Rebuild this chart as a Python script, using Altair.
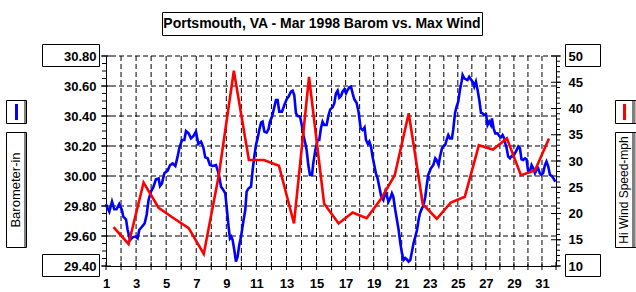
import altair as alt
import pandas as pd

# ---------------- data ----------------
baro_day = [
    1.00, 1.04, 1.22, 1.40, 1.55, 1.70, 1.88, 2.06, 2.15, 2.33, 2.44, 2.60, 2.77, 2.95,
    3.10, 3.21, 3.39, 3.57, 3.70, 3.83, 3.99, 4.14, 4.32, 4.50, 4.59, 4.72, 4.88, 5.10,
    5.26, 5.43, 5.61, 5.76, 5.87, 6.05, 6.21, 6.32, 6.49, 6.65, 6.82, 6.98, 7.14, 7.32,
    7.47, 7.60, 7.76, 7.91, 8.09, 8.31, 8.42, 8.53, 8.65, 8.80, 8.93, 9.02, 9.15, 9.24,
    9.33, 9.42, 9.53, 9.64, 9.75, 9.86, 9.98, 10.13, 10.26, 10.35, 10.48, 10.64, 10.75,
    10.86, 10.97, 11.08, 11.19, 11.31, 11.41, 11.53, 11.68, 11.81, 11.90, 12.04, 12.12,
    12.30, 12.41, 12.52, 12.70, 12.86, 13.01, 13.14, 13.30, 13.41, 13.52, 13.63, 13.74,
    13.90, 14.03, 14.14, 14.25, 14.34, 14.45, 14.56, 14.70, 14.78, 14.92, 15.07, 15.18,
    15.29, 15.40, 15.51, 15.67, 15.80, 15.91, 16.07, 16.19, 16.31, 16.43, 16.55, 16.67,
    16.78, 16.91, 17.03, 17.14, 17.26, 17.38, 17.50, 17.62, 17.78, 17.92, 18.07, 18.21,
    18.35, 18.45, 18.59, 18.69, 18.81, 18.92, 19.04, 19.16, 19.28, 19.40, 19.54, 19.69,
    19.83, 19.95, 20.06, 20.18, 20.30, 20.40, 20.54, 20.66, 20.78, 20.90, 21.02, 21.13,
    21.25, 21.37, 21.49, 21.61, 21.73, 21.84, 21.97, 22.09, 22.20, 22.30, 22.44, 22.56,
    22.68, 22.77, 22.89, 23.08, 23.25, 23.39, 23.48, 23.63, 23.73, 23.87, 23.96, 24.10,
    24.20, 24.32, 24.44, 24.58, 24.67, 24.80, 24.91, 25.03, 25.15, 25.27, 25.34, 25.46,
    25.58, 25.69, 25.81, 25.94, 26.05, 26.17, 26.29, 26.41, 26.53, 26.65, 26.76, 26.88,
    27.01, 27.12, 27.24, 27.36, 27.43, 27.55, 27.67, 27.83, 27.95, 28.07, 28.19, 28.31,
    28.38, 28.47, 28.59, 28.72, 28.83, 28.95, 29.07, 29.19, 29.31, 29.43, 29.54, 29.66,
    29.79, 29.90, 30.02, 30.14, 30.26, 30.38, 30.50, 30.61, 30.73, 30.85, 30.97, 31.09,
    31.21, 31.32, 31.45, 31.57, 31.71, 31.82, 31.95,
]
baro_inhg = [
    29.813, 29.800, 29.762, 29.829, 29.778, 29.778, 29.813, 29.773, 29.729, 29.711, 29.640,
    29.573, 29.591, 29.596, 29.584, 29.640, 29.662, 29.684, 29.740, 29.840, 29.896, 29.924,
    29.978, 29.984, 29.933, 29.951, 30.018, 30.036, 30.073, 30.084, 30.067, 30.129, 30.184,
    30.240, 30.240, 30.300, 30.284, 30.251, 30.267, 30.296, 30.213, 30.229, 30.191, 30.124,
    30.118, 30.073, 30.067, 30.073, 30.040, 29.996, 29.929, 29.907, 29.884, 29.796, 29.662,
    29.584, 29.596, 29.573, 29.507, 29.429, 29.462, 29.540, 29.596, 29.696, 29.773, 29.896,
    29.918, 29.929, 30.040, 30.129, 30.207, 30.251, 30.307, 30.356, 30.362, 30.296, 30.289,
    30.313, 30.362, 30.396, 30.429, 30.507, 30.507, 30.429, 30.429, 30.473, 30.511, 30.529,
    30.562, 30.569, 30.538, 30.418, 30.400, 30.396, 30.333, 30.267, 30.218, 30.173, 30.073,
    30.007, 30.007, 30.084, 30.173, 30.240, 30.240, 30.318, 30.362, 30.340, 30.340, 30.407,
    30.444, 30.458, 30.484, 30.551, 30.569, 30.522, 30.533, 30.562, 30.578, 30.551, 30.573,
    30.591, 30.596, 30.551, 30.511, 30.489, 30.429, 30.318, 30.307, 30.324, 30.240, 30.213,
    30.229, 30.196, 30.129, 30.073, 30.018, 29.984, 29.929, 29.862, 29.840, 29.896, 29.862,
    29.829, 29.851, 29.884, 29.862, 29.773, 29.707, 29.640, 29.551, 29.484, 29.440, 29.453,
    29.444, 29.429, 29.440, 29.496, 29.551, 29.596, 29.640, 29.707, 29.751, 29.784, 29.807,
    29.862, 29.929, 30.007, 30.051, 30.073, 30.118, 30.107, 30.073, 30.129, 30.184, 30.196,
    30.207, 30.240, 30.273, 30.251, 30.251, 30.307, 30.418, 30.462, 30.496, 30.573, 30.629,
    30.673, 30.651, 30.644, 30.640, 30.662, 30.644, 30.629, 30.596, 30.629, 30.573, 30.507,
    30.422, 30.418, 30.407, 30.411, 30.340, 30.362, 30.340, 30.384, 30.318, 30.284, 30.284,
    30.267, 30.258, 30.273, 30.251, 30.218, 30.191, 30.129, 30.118, 30.133, 30.129, 30.151,
    30.173, 30.196, 30.184, 30.111, 30.107, 30.118, 30.111, 30.029, 30.029, 30.073, 30.051,
    30.018, 30.040, 30.051, 30.018, 30.007, 30.022, 30.073, 30.096, 30.062, 30.007, 30.000,
    29.984, 29.962,
]

wind_day = list(range(1, 32))
wind_mph = [
    17.4, 14.2, 25.9, 21.1, 19.1, 17.2, 12.3, 27.3, 47.2, 30.2, 30.2, 29.1, 18.1, 46.0,
    21.9, 18.1, 20.2, 19.1, 22.7, 27.3, 39.1, 21.8, 19.0, 22.1, 23.2, 33.0, 32.2, 34.3,
    27.3, 28.2, 34.3,
]

baro_major = [29.4, 29.6, 29.8, 30.0, 30.2, 30.4, 30.6, 30.8]
baro_minor = [29.4, 29.45, 29.5, 29.55, 29.6, 29.65, 29.7, 29.75, 29.8, 29.85, 29.9, 29.95,
              30.0, 30.05, 30.1, 30.15, 30.2, 30.25, 30.3, 30.35, 30.4, 30.45, 30.5, 30.55,
              30.6, 30.65, 30.7, 30.75, 30.8]
wind_major = [10, 15, 20, 25, 30, 35, 40, 45, 50]
wind_minor = list(range(10, 51))
day_ticks = list(range(1, 33))
day_labels = list(range(1, 32, 2))
grid_days = list(range(2, 32))
grid_baro = [29.6, 29.8, 30.0, 30.2, 30.4, 30.6, 30.8]

TITLE = "Portsmouth, VA - Mar 1998 Barom vs. Max Wind"
LEFT_LEGEND = "Barometer-in"
RIGHT_LEGEND = "Hi Wind Speed-mph"
FONT = "Liberation Sans"
BLUE = "#0000ff"
RED = "#ff0000"

# ---------------- scales ----------------
xs = alt.Scale(domain=[1, 16, 32], range=[0, 225.6, 450], nice=False, zero=False)
yb = alt.Scale(domain=[29.4, 30.8], nice=False, zero=False)
yw = alt.Scale(domain=[10, 50], nice=False, zero=False)

baro_df = pd.DataFrame({"day": baro_day, "baro": baro_inhg})
wind_df = pd.DataFrame({"day": wind_day, "wind": wind_mph})
one = pd.DataFrame({"k": [0]})

label_style = dict(labelFont=FONT, labelFontSize=13, labelFontWeight="bold",
                   labelColor="black", labelFlush=False, labelOverlap=False,
                   ticks=False, grid=False, domainColor="black", domainWidth=1,
                   title=None)

x_axis = alt.Axis(orient="bottom", values=day_labels, format="d", labelPadding=11,
                  **label_style)


def xenc(field):
    return alt.X(field, scale=xs, axis=x_axis)


vgrid = alt.Chart(pd.DataFrame({"d": grid_days})).mark_rule(
    color="black", strokeWidth=1, strokeDash=[5, 3]
).encode(x=xenc("d:Q"))

hgrid = alt.Chart(pd.DataFrame({"v": grid_baro})).mark_rule(
    color="black", strokeWidth=1, strokeDash=[5, 3]
).encode(y=alt.Y("v:Q", scale=yb, axis=None))

baro_line = alt.Chart(baro_df).mark_line(color=BLUE, strokeWidth=2.6).encode(
    x=xenc("day:Q"),
    y=alt.Y("baro:Q", scale=yb,
            axis=alt.Axis(orient="left", values=baro_major, format=".2f",
                          labelPadding=10, **label_style)),
)

wind_line = alt.Chart(wind_df).transform_calculate(
    noon="datum.day + 0.5"
).mark_line(color=RED, strokeWidth=2.6).encode(
    x=xenc("noon:Q"),
    y=alt.Y("wind:Q", scale=yw,
            axis=alt.Axis(orient="right", values=wind_major, format="d",
                          labelPadding=12, **label_style)),
)


def yticks(values, scale, xpos, size):
    return alt.Chart(pd.DataFrame({"v": values})).mark_tick(
        orient="horizontal", size=size, thickness=1, color="black", opacity=1
    ).encode(y=alt.Y("v:Q", scale=scale, axis=None), x=alt.value(xpos))


left_major = yticks(baro_major, yb, 0, 10)
left_minor = yticks(baro_minor, yb, -2, 4)
right_major = yticks(wind_major, yw, 450, 10)
right_minor = yticks(wind_minor, yw, 452, 4)

xticks = alt.Chart(pd.DataFrame({"d": day_ticks})).mark_tick(
    orient="vertical", size=8, thickness=1, color="black", opacity=1
).encode(x=xenc("d:Q"), y=alt.value(210))


def box(x1, x2, y1, y2):
    return alt.Chart(one).mark_rect(
        fill="white", fillOpacity=0, stroke="black", strokeWidth=1
    ).encode(x=alt.value(x1), x2=alt.value(x2), y=alt.value(y1), y2=alt.value(y2))


def shade(x1, x2, y1, y2):
    return alt.Chart(one).mark_rect(color="#808080").encode(
        x=alt.value(x1), x2=alt.value(x2), y=alt.value(y1), y2=alt.value(y2))


def text(t, x, y, size, weight="normal", angle=0):
    return alt.Chart(one).mark_text(
        text=t, font=FONT, fontSize=size, fontWeight=weight, angle=angle,
        color="black", align="center", baseline="middle"
    ).encode(x=alt.value(x), y=alt.value(y))


def swatch(color, x):
    return alt.Chart(one).mark_rule(color=color, strokeWidth=3).encode(
        x=alt.value(x), y=alt.value(48), y2=alt.value(64))


decor = [
    # title
    box(56.5, 376.5, -43.5, -20.5),
    text(TITLE, 216, -32, 14, "bold"),
    # boxed end labels
    box(-63.5, -6.5, -11.5, 10.5),
    box(-63.5, -6.5, 198.5, 220.5),
    box(459.5, 494.5, -11.5, 10.5),
    box(459.5, 494.5, 198.5, 220.5),
    # left legend
    shade(-82, -79.5, 44.5, 67.5),
    box(-99.5, -79.5, 44.5, 67.5),
    swatch(BLUE, -89.5),
    shade(-82, -79.5, 76.5, 191.5),
    box(-99.5, -79.5, 76.5, 191.5),
    text(LEFT_LEGEND, -90, 134, 13, angle=270),
    # right legend
    shade(526, 529.5, 44.5, 67.5),
    box(509.5, 531, 44.5, 67.5),
    swatch(RED, 518.5),
    shade(526, 529.5, 76.5, 191.5),
    box(509.5, 531, 76.5, 191.5),
    text(RIGHT_LEGEND, 518, 134, 12, angle=270),
]

chart = alt.layer(
    vgrid, hgrid, baro_line, wind_line,
    left_major, left_minor, right_major, right_minor, xticks,
    *decor
).resolve_scale(
    y="independent"
).properties(
    width=450,
    height=210,
    autosize=alt.AutoSizeParams(type="none"),
    padding={"left": 106, "top": 56, "right": 80, "bottom": 26},
    background="white",
).configure_view(stroke="transparent")

chart.save("out.html", embed_options={"renderer": "svg", "actions": False})
